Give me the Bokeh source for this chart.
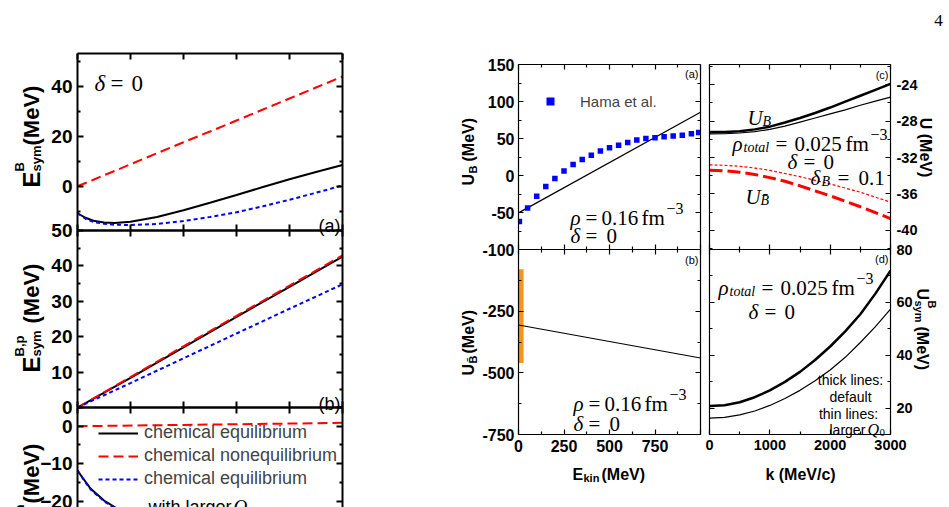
from math import pi

from bokeh.plotting import figure
from bokeh.models import LinearAxis, FixedTicker, Label, Legend, LegendItem, Range1d
from bokeh.layouts import row, column
from bokeh.embed import file_html
from bokeh.resources import INLINE

SANS = "Liberation Sans"
SERIF = "Liberation Serif"
MINUS = "\u2212"

# ---------------- left figure: baryon symmetry energies vs density ----------------
rho_a = [0.0, 0.0015, 0.003, 0.005, 0.007, 0.010, 0.015, 0.020, 0.025, 0.030, 0.035, 0.040, 0.045, 0.050]
esym_b_eq = [-10.8, -12.6, -13.8, -14.5, -14.7, -14.2, -12.3, -9.6, -6.6, -3.5, -0.3, 2.8, 5.7, 8.5]
esym_b_neq = [0.0, 1.3, 2.6, 4.4, 6.1, 8.8, 13.2, 17.6, 21.9, 26.3, 30.7, 35.1, 39.5, 43.9]
esym_b_eq_q0 = [-10.8, -13.0, -14.3, -15.0, -15.4, -15.5, -15.1, -13.9, -12.3, -10.4, -8.0, -5.4, -2.6, 0.3]

rho_b = [0.0, 0.01, 0.02, 0.03, 0.04, 0.05]
esym_bp_eq = [0.0, 8.4, 17.0, 25.6, 34.1, 42.6]
esym_bp_neq = [0.0, 8.6, 17.3, 25.9, 34.4, 43.0]
esym_bp_eq_q0 = [0.0, 6.9, 13.9, 20.9, 27.9, 34.8]

rho_c = [0.0, 0.001, 0.0025, 0.005, 0.0075, 0.010]
esym_bn_eq = [-11.8, -13.8, -16.7, -19.8, -22.0, -24.0]
esym_bn_eq_q0 = [-11.8, -13.9, -16.9, -20.0, -22.3, -24.4]
rho_c_neq = [0.0, 0.05]
esym_bn_neq = [0.0, 0.9]

rho_ticks = [0.0, 0.01, 0.02, 0.03, 0.04, 0.05]

# ---------------- right figure: potentials ----------------
e_kin_line = [0, 1000]
u_b_line = [-50.5, 85.5]
e_hama = [5, 50, 100, 150, 200, 250, 300, 350, 400, 450, 500, 550, 600, 650, 700, 750, 800, 850, 900, 950, 990]
u_hama = [-62, -44, -28, -15, -4, 6, 15, 21.5, 27.5, 33, 37.5, 41, 44.5, 48, 50, 51, 52.5, 53.5, 54.5, 56.5, 58]

u_bbar_line = [-306, -440]
exp_e_range = [0, 28]
exp_u_range = [-460, -80]

k_mom = [0, 250, 500, 750, 1000, 1250, 1500, 1750, 2000, 2250, 2500, 2750, 3000]
u_b_default = [-29.2, -29.18, -29.1, -28.9, -28.6, -28.15, -27.65, -27.1, -26.5, -25.85, -25.2, -24.55, -23.9]
u_b_q0 = [-29.4, -29.38, -29.3, -29.15, -28.9, -28.55, -28.1, -27.65, -27.2, -26.75, -26.25, -25.8, -25.35]
u_bbar_default = [-33.4, -33.45, -33.6, -33.85, -34.2, -34.6, -35.1, -35.65, -36.2, -36.8, -37.4, -38.05, -38.7]
u_bbar_q0 = [-32.8, -32.85, -32.95, -33.15, -33.4, -33.75, -34.1, -34.5, -34.9, -35.35, -35.8, -36.35, -36.9]

usym_default = [20.8, 21.1, 22.2, 24.1, 26.7, 29.9, 33.7, 38.2, 43.3, 49.0, 55.5, 63.3, 72.0]
usym_q0 = [16.2, 16.5, 17.4, 18.9, 21.0, 23.6, 26.7, 30.3, 34.4, 39.2, 44.8, 50.8, 57.4]

# tick labels
ub_tick_labels = ["-100", "-50", "0", "50", "100", "150"]
ubbar_tick_labels = ["-750", "-500", "-250", ""]
ekin_tick_labels = ["0", "250", "500", "750", ""]
u_tick_labels = ["-40", "-36", "-32", "-28", "-24"]
usym_tick_labels = ["20", "40", "60", "80"]
k_tick_labels = ["0", "1000", "2000", "3000"]


def panel(w, h, bl, br, bt, bb, xr, yr):
    p = figure(width=w, height=h, x_range=Range1d(*xr), y_range=Range1d(*yr),
               min_border_left=bl, min_border_right=br, min_border_top=bt, min_border_bottom=bb,
               x_axis_location=None, y_axis_location=None,
               output_backend="svg", toolbar_location=None)
    p.grid.visible = False
    p.outline_line_color = None
    p.background_fill_alpha = 0
    p.border_fill_alpha = 0
    return p


def axis(p, side, ticks, minor, labels=None, size=16, standoff=5, tin=5, min_in=3, lw=1.2):
    ax = LinearAxis(ticker=FixedTicker(ticks=ticks, minor_ticks=minor))
    ax.axis_line_width = lw
    ax.major_tick_line_width = lw
    ax.minor_tick_line_width = lw
    ax.major_tick_in = tin
    ax.major_tick_out = 0
    ax.minor_tick_in = min_in
    ax.minor_tick_out = 0
    if labels is None:
        ax.major_label_overrides = {t: "" for t in ticks}
        ax.major_label_text_font_size = "0px"
        ax.major_label_standoff = 0
    else:
        ax.major_label_overrides = {t: s for t, s in zip(ticks, labels)}
        ax.major_label_text_font = SANS
        ax.major_label_text_font_style = "bold"
        ax.major_label_text_font_size = f"{size}px"
        ax.major_label_text_color = "black"
        ax.major_label_standoff = standoff
    p.add_layout(ax, side)


LW_L = 2
# ---- left (a) ----
fa = panel(440, 240, 77, 98, 53, 10, (0, 0.05), (-17.7, 53.1))
fa.line(rho_a, esym_b_eq, color="black", line_width=2)
fa.line(rho_a, esym_b_neq, color="red", line_width=2, line_dash="10 5")
fa.line(rho_a, esym_b_eq_q0, color="blue", line_width=2, line_dash="4 3")
axis(fa, "left", [0, 20, 40], [-10, 10, 30, 50], ["0", "20", "40"], size=19, standoff=5, tin=6, lw=LW_L)
axis(fa, "right", [0, 20, 40], [-10, 10, 30, 50], tin=6, lw=LW_L)
axis(fa, "above", rho_ticks, [], tin=6, lw=LW_L)
axis(fa, "below", rho_ticks, [], tin=6, lw=LW_L)

# ---- left (b) ----
fb = panel(440, 197, 77, 98, 10, 10, (0, 0.05), (0, 50))
fb.margin = (-20, 0, 0, 0)
fb.line(rho_b, esym_bp_eq, color="black", line_width=2)
fb.line(rho_b, esym_bp_neq, color="red", line_width=2, line_dash="10 5")
fb.line(rho_b, esym_bp_eq_q0, color="blue", line_width=2, line_dash="4 3")
axis(fb, "left", [0, 10, 20, 30, 40, 50], [5, 15, 25, 35, 45],
     ["0", "10", "20", "30", "40", "50"], size=19, standoff=5, tin=6, lw=LW_L)
axis(fb, "right", [0, 10, 20, 30, 40, 50], [5, 15, 25, 35, 45], tin=6, lw=LW_L)
axis(fb, "above", rho_ticks, [], tin=6, lw=LW_L)
axis(fb, "below", rho_ticks, [], tin=6, lw=LW_L)

# ---- left (c) ----
fc = panel(440, 110, 77, 98, 10, 0, (0, 0.05), (-21.67, 5))
fc.margin = (-20, 0, 0, 0)
c_eq = fc.line(rho_c, esym_bn_eq, color="black", line_width=2)
c_neq = fc.line(rho_c_neq, esym_bn_neq, color="red", line_width=2, line_dash="10 5")
c_q0 = fc.line(rho_c, esym_bn_eq_q0, color="blue", line_width=2, line_dash="4 3")
axis(fc, "left", [0, -10, -20], [5, -5, -15], ["0", MINUS + "10", MINUS + "20"], size=19, standoff=5, tin=6, lw=LW_L)
axis(fc, "right", [0, -10, -20], [5, -5, -15], tin=6, lw=LW_L)
axis(fc, "above", rho_ticks, [], tin=6, lw=LW_L)
fc.add_layout(Legend(items=[LegendItem(label="chemical equilibrium", renderers=[c_eq]),
                            LegendItem(label="chemical nonequilibrium", renderers=[c_neq]),
                            LegendItem(label="chemical equilibrium", renderers=[c_q0])],
                     location=(21, 18), padding=0, margin=0, spacing=2,
                     glyph_width=40, glyph_height=20, label_height=20, label_standoff=6,
                     label_text_font=SANS, label_text_font_size="18px",
                     border_line_color=None, background_fill_alpha=0))

# ---- right (a) ----
ra = panel(264, 259, 78, 4, 64, 10, (0, 1000), (-100, 150))
ra.line(e_kin_line, u_b_line, color="black", line_width=1.2)
hama = ra.scatter(e_hama, u_hama, marker="square", size=5.5, fill_color="blue", line_color=None)
axis(ra, "left", [-100, -50, 0, 50, 100, 150], [-75, -25, 25, 75, 125], ub_tick_labels, size=16, standoff=4)
axis(ra, "right", [-100, -50, 0, 50, 100, 150], [-75, -25, 25, 75, 125])
axis(ra, "above", [0, 250, 500, 750, 1000], [125, 375, 625, 875])
axis(ra, "below", [0, 250, 500, 750, 1000], [125, 375, 625, 875])
ra.add_layout(Legend(items=[LegendItem(label="Hama et al.", renderers=[hama])],
                     location=(22, 138), padding=0, margin=0, glyph_width=20, glyph_height=20,
                     label_height=20, label_standoff=20, label_text_font=SANS,
                     label_text_font_size="15px", border_line_color=None, background_fill_alpha=0))

# ---- right (b) ----
rb = panel(264, 268, 78, 4, 10, 73, (0, 1000), (-750, 0))
rb.quad(left=[exp_e_range[0]], right=[exp_e_range[1]], bottom=[exp_u_range[0]], top=[exp_u_range[1]],
        fill_color="#F7941D", line_color=None)
rb.line(e_kin_line, u_bbar_line, color="black", line_width=1.2)
axis(rb, "left", [-750, -500, -250, 0], [-625, -375, -125], ubbar_tick_labels, size=16, standoff=4)
axis(rb, "right", [-750, -500, -250, 0], [-625, -375, -125])
axis(rb, "above", [0, 250, 500, 750, 1000], [125, 375, 625, 875])
axis(rb, "below", [0, 250, 500, 750, 1000], [125, 375, 625, 875], ekin_tick_labels, size=16, standoff=5)

# ---- right (c) ----
rc = panel(245, 259, 5, 59, 64, 10, (0, 3000), (-42.1, -21.77))
rc.line(k_mom, u_b_default, color="black", line_width=2.5)
rc.line(k_mom, u_b_q0, color="black", line_width=1.2)
rc.line(k_mom, u_bbar_default, color="red", line_width=3, line_dash="13 5")
rc.line(k_mom, u_bbar_q0, color="red", line_width=1.2, line_dash="3 2")
u_ticks = [-40, -36, -32, -28, -24]
u_minor = [-42, -38, -34, -30, -26, -22]
axis(rc, "left", u_ticks, u_minor)
axis(rc, "right", u_ticks, u_minor, u_tick_labels, size=14.5, standoff=6)
axis(rc, "above", [0, 1000, 2000, 3000], [500, 1500, 2500])
axis(rc, "below", [0, 1000, 2000, 3000], [500, 1500, 2500])

# ---- right (d) ----
rd = panel(245, 268, 5, 59, 10, 73, (0, 3000), (10, 80))
rd.line(k_mom, usym_default, color="black", line_width=2.5)
rd.line(k_mom, usym_q0, color="black", line_width=1.2)
s_ticks = [20, 40, 60, 80]
s_minor = [10, 30, 50, 70]
axis(rd, "left", s_ticks, s_minor)
axis(rd, "right", s_ticks, s_minor, usym_tick_labels, size=14.5, standoff=6)
axis(rd, "above", [0, 1000, 2000, 3000], [500, 1500, 2500])
axis(rd, "below", [0, 1000, 2000, 3000], [500, 1500, 2500], k_tick_labels, size=14.5, standoff=5)

# ---------------- transparent text layer in page pixel coordinates ----------------
ov = figure(width=949, height=507, x_range=Range1d(0, 949), y_range=Range1d(507, 0),
            min_border=0, x_axis_location=None, y_axis_location=None,
            output_backend="svg", toolbar_location=None)
ov.grid.visible = False
ov.outline_line_color = None
ov.background_fill_alpha = 0
ov.border_fill_alpha = 0
ov.margin = (-507, 0, 0, 0)


def txt(X, Y, text, size, font=SANS, style="normal", align="left",
        baseline="alphabetic", angle=0.0, color="black"):
    ov.add_layout(Label(x=X, y=Y, text=text, text_font=font, text_font_size=f"{size}px",
                        text_font_style=style, text_align=align, text_baseline=baseline,
                        angle=angle, text_color=color))


UP = pi / 2
DOWN = -pi / 2

# left figure axis titles
txt(31, 187, "E", 24, style="bold", angle=UP)
txt(19, 171, "B", 13, style="bold", angle=UP)
txt(36, 171, "sym", 13, style="bold", angle=UP)
txt(31, 145, "(MeV)", 22, style="bold", angle=UP)

txt(31, 372, "E", 24, style="bold", angle=UP)
txt(19, 356, "B,p", 13, style="bold", angle=UP)
txt(36, 356, "sym", 13, style="bold", angle=UP)
txt(31, 323, "(MeV)", 22, style="bold", angle=UP)

txt(31, 503, "(MeV)", 22, style="bold", angle=UP)
txt(19, 525, "B,n", 13, style="bold", angle=UP)

# left figure annotations
txt(94, 83, "\u03b4", 23, font=SERIF, style="italic")
txt(110, 83, "=", 23, font=SERIF)
txt(131, 83, "0", 23, font=SERIF)
txt(340, 225, "(a)", 18, align="right")
txt(340, 403, "(b)", 18, align="right")
txt(148, 506, "with larger", 18)
txt(233, 506, "Q", 19, font=SERIF, style="italic")
txt(248, 510, "0", 13, font=SERIF)

# right figure axis titles
txt(468, 185, "U", 16, style="bold", angle=UP)
txt(472, 173, "B", 11, style="bold", angle=UP)
txt(468, 161, "(MeV)", 16, style="bold", angle=UP)
txt(468, 375, "U", 16, style="bold", angle=UP)
txt(472, 363, "B\u0304", 11, style="bold", angle=UP)
txt(468, 353, "(MeV)", 16, style="bold", angle=UP)
txt(572, 474, "E", 16, style="bold")
txt(583, 477, "kin", 11, style="bold")
txt(601, 474, "(MeV)", 16, style="bold")
txt(800, 474, "k (MeV/c)", 16, style="bold", align="center")
txt(925, 147, "U (MeV)", 16, style="bold", align="center", angle=DOWN)
txt(922, 288, "U", 16, style="bold", angle=DOWN)
txt(931, 300, "B", 11, style="bold", angle=DOWN)
txt(918, 300, "sym", 11, style="bold", angle=DOWN)
txt(922, 326, "(MeV)", 16, style="bold", angle=DOWN)

# panel tags and page number
txt(698, 73, "(a)", 11, align="right")
txt(698, 259, "(b)", 11, align="right")
txt(888, 74, "(c)", 11, align="right")
txt(888, 258, "(d)", 11, align="right")
txt(938, 20, "4", 17, font=SERIF, align="center")


def rho_fixed(X0, b1, b2):
    txt(X0, b1, "\u03c1", 21, font=SERIF, style="italic")
    txt(X0 + 15, b1, "=", 21, font=SERIF)
    txt(X0 + 31, b1, "0.16", 21, font=SERIF)
    txt(X0 + 71, b1, "fm", 21, font=SERIF)
    txt(X0 + 96, b1 - 9, MINUS + "3", 16, font=SERIF)
    txt(X0, b2, "\u03b4", 21, font=SERIF, style="italic")
    txt(X0 + 15, b2, "=", 21, font=SERIF)
    txt(X0 + 36, b2, "0", 21, font=SERIF)


def rho_total(X0, b):
    txt(X0, b, "\u03c1", 21, font=SERIF, style="italic")
    txt(X0 + 11, b + 4, "total", 14, font=SERIF, style="italic")
    txt(X0 + 43, b, "=", 21, font=SERIF)
    txt(X0 + 62, b, "0.025", 21, font=SERIF)
    txt(X0 + 113, b, "fm", 21, font=SERIF)
    txt(X0 + 138, b - 9, MINUS + "3", 16, font=SERIF)


def delta_zero(X0, b):
    txt(X0, b, "\u03b4", 21, font=SERIF, style="italic")
    txt(X0 + 16, b, "=", 21, font=SERIF)
    txt(X0 + 36, b, "0", 21, font=SERIF)


rho_fixed(570, 217, 235)
rho_fixed(573, 403, 423)

txt(747, 117, "U", 21, font=SERIF, style="italic")
txt(762, 121, "B", 14, font=SERIF, style="italic")
rho_total(732, 143)
delta_zero(787, 161)
txt(810, 177, "\u03b4", 21, font=SERIF, style="italic")
txt(821, 181, "B", 14, font=SERIF, style="italic")
txt(837, 177, "=", 21, font=SERIF)
txt(858, 177, "0.1", 21, font=SERIF)
txt(745, 196, "U", 21, font=SERIF, style="italic")
txt(760, 200, "B\u0304", 14, font=SERIF, style="italic")

rho_total(718, 287)
delta_zero(748, 311)
txt(850, 379, "thick lines:", 14, align="center")
txt(850, 396, "default", 14, align="center")
txt(848, 413, "thin lines:", 14, align="center")
txt(829, 429, "larger", 14)
txt(867, 429, "Q", 16, font=SERIF, style="italic")
txt(879, 432, "0", 11, font=SERIF)

left = column(fa, fb, fc, spacing=0)
top_r = row(ra, rc, spacing=0)
bot_r = row(rb, rd, spacing=0)
bot_r.margin = (-20, 0, 0, 0)
right = column(top_r, bot_r, spacing=0)
main = row(left, right, spacing=0)
root = column(main, ov, spacing=0)

open("out.html", "w").write(file_html(root, INLINE))
